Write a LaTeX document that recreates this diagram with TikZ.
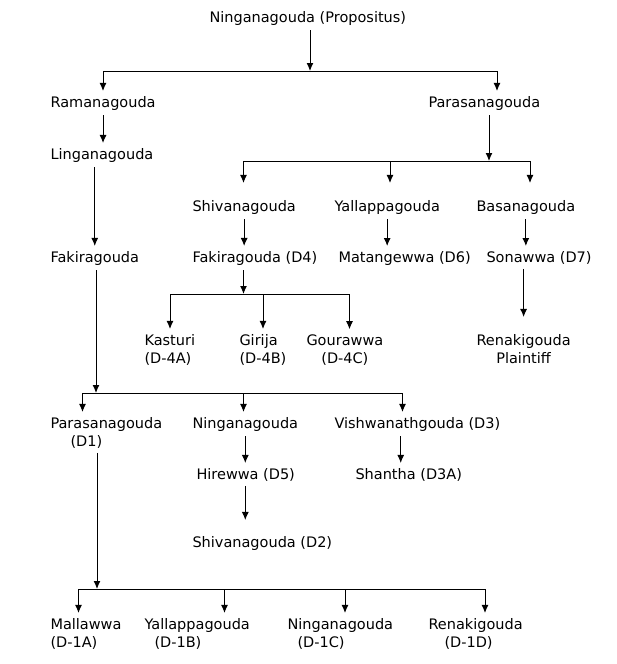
\documentclass[tikz,border=0pt]{standalone}
\usepackage{fontspec}
\setmainfont{DejaVu Sans}
\usetikzlibrary{arrows.meta}

\begin{document}
\begin{tikzpicture}[x=1pt, y=-1pt, line width=1pt,
    person/.style={anchor=base west, inner sep=0pt, outer ysep=5pt,
      font=\fontsize{14.5}{18}\selectfont},
    arr/.style={-{Latex[length=8pt,width=7pt]}}]
  \useasboundingbox (0,0) rectangle (616,664);

  % propositus and his sons
  \node[person] (prop) at (209,22) {Ninganagouda (Propositus)};
  \node[person] (rama) at (50,107) {Ramanagouda};
  \node[person] (para) at (428,107) {Parasanagouda};
  \node[person] (linga) at (50,159) {Linganagouda};

  % sons of Parasanagouda
  \node[person] (shiva) at (192,211) {Shivanagouda};
  \node[person] (yalla) at (334,211) {Yallappagouda};
  \node[person] (basa) at (476,211) {Basanagouda};

  \node[person] (fakira) at (50,262) {Fakiragouda};
  \node[person] (fakiraD) at (192,262) {Fakiragouda (D4)};
  \node[person] (matang) at (338,262) {Matangewwa (D6)};
  \node[person] (sona) at (486,262) {Sonawwa (D7)};

  % daughters of D4, and the plaintiff (base = second line)
  \node[person, align=left] (kasturi) at (144,363) {Kasturi\\(D-4A)};
  \node[person, align=left] (girija) at (239,363) {Girija\\(D-4B)};
  \node[person, align=center] (goura) at (306,363) {Gourawwa\\(D-4C)};
  \node[person, align=center] (renaP) at (476,363) {Renakigouda\\Plaintiff};

  % sons of Fakiragouda
  \node[person, align=left] (paraD) at (50,446) {Parasanagouda\\\hspace*{20pt}(D1)};
  \node[person] (ninga) at (192,428) {Ninganagouda};
  \node[person] (vishwa) at (334,428) {Vishwanathgouda (D3)};
  \node[person] (hire) at (196,479) {Hirewwa (D5)};
  \node[person] (shantha) at (355,479) {Shantha (D3A)};
  \node[person] (shivaD) at (192,547) {Shivanagouda (D2)};

  % children of D1
  \node[person, align=left] (malla) at (50,647) {Mallawwa\\(D-1A)};
  \node[person, align=left] (yallaD) at (144,647) {Yallappagouda\\\hspace*{10pt}(D-1B)};
  \node[person, align=left] (ningaD) at (287,647) {Ninganagouda\\\hspace*{10pt}(D-1C)};
  \node[person, align=left] (renaD) at (428,647) {Renakigouda\\\hspace*{16pt}(D-1D)};

  % bar below the propositus
  \coordinate (j0) at (310,71);
  \coordinate (j0l) at (103,71);
  \coordinate (j0r) at (497,71);
  \draw[arr] (prop.south -| j0) -- (j0);
  \draw (j0l) -- (j0r);
  \draw[arr] (j0l) -- (j0l |- rama.north);
  \draw[arr] (j0r) -- (j0r |- para.north);

  % bar below Parasanagouda
  \coordinate (j1) at (489,161);
  \coordinate (j1l) at (243.5,161);
  \coordinate (j1r) at (530,161);
  \draw[arr] (para.south -| j1) -- (j1);
  \draw (j1l) -- (j1r);
  \foreach \x/\n in {243.5/shiva, 390/yalla, 530/basa} {
    \coordinate (d) at (\x,161);
    \draw[arr, shorten >=12pt] (d) -- (d |- \n.north);
  }

  % single lines of descent
  \draw[arr] (rama.south) -- (rama.south |- linga.north);
  \draw[arr] (linga.south -| fakira.north) -- (fakira.north);
  \draw[arr] (shiva.south) -- (shiva.south |- fakiraD.north);
  \draw[arr] (yalla.south) -- (yalla.south |- matang.north);
  \draw[arr] (basa.south) -- (basa.south |- sona.north);
  \draw[arr, shorten >=12pt] (sona.south -| renaP.north) -- (renaP.north);

  % bar below Fakiragouda (D4)
  \coordinate (j2) at (243.5,294);
  \coordinate (j2l) at (170,294);
  \coordinate (j2r) at (349.5,294);
  \draw[arr] (fakiraD.south -| j2) -- (j2);
  \draw (j2l) -- (j2r);
  \foreach \x/\n in {170/kasturi, 263/girija, 349.5/goura} {
    \coordinate (d) at (\x,294);
    \draw[arr] (d) -- (d |- \n.north);
  }

  % bar below Fakiragouda
  \coordinate (j3) at (96,393);
  \coordinate (j3l) at (82.5,393);
  \coordinate (j3r) at (402.5,393);
  \draw[arr] (fakira.south -| j3) -- (j3);
  \draw (j3l) -- (j3r);
  \foreach \x/\n in {82.5/paraD, 243.5/ninga, 402.5/vishwa} {
    \coordinate (d) at (\x,393);
    \draw[arr] (d) -- (d |- \n.north);
  }

  \draw[arr] (ninga.south) -- (ninga.south |- hire.north);
  \draw[arr, shorten >=11pt] (hire.south -| ninga.south) -- (ninga.south |- shivaD.north);
  \coordinate (vs) at ([xshift=-8pt]shantha.north);
  \draw[arr] (vs |- vishwa.south) -- (vs);

  % bar below Parasanagouda (D1)
  \coordinate (j4) at (97,589);
  \coordinate (j4l) at (78.5,589);
  \coordinate (j4r) at (485,589);
  \draw[arr] (paraD.south -| j4) -- (j4);
  \draw (j4l) -- (j4r);
  \foreach \x/\n in {78.5/malla, 224.5/yallaD, 345/ningaD, 485/renaD} {
    \coordinate (d) at (\x,589);
    \draw[arr] (d) -- (d |- \n.north);
  }
\end{tikzpicture}
\end{document}
